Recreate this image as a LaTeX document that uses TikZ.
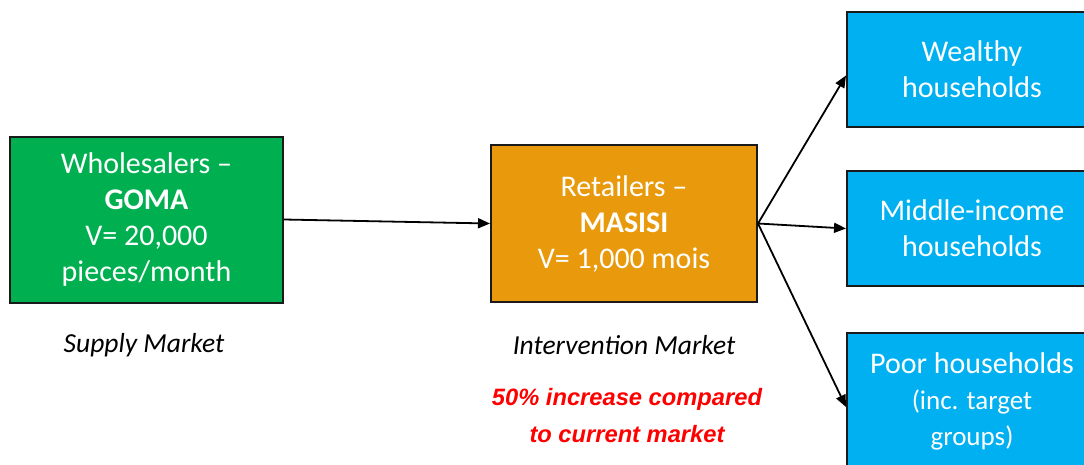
\documentclass[tikz,border=0pt]{standalone}
\usepackage{fontspec}
\setmainfont{Carlito}
\newfontfamily\arialfont{Liberation Sans}
\usetikzlibrary{arrows.meta}

\definecolor{boxgreen}{HTML}{00B050}
\definecolor{boxorange}{HTML}{E89A0C}
\definecolor{boxblue}{HTML}{00B0F0}
\definecolor{boxedge}{HTML}{1A1A1A}
\definecolor{notered}{HTML}{FF0000}

\tikzset{
  actor/.style={draw=boxedge, line width=2pt, text=white, align=center,
    inner sep=0pt, font=\fontsize{30}{36}\selectfont},
  marketlabel/.style={font=\itshape\fontsize{27.5}{30}\selectfont, text=black, inner sep=0pt},
  flow/.style={line width=1.8pt, -{Triangle[length=12pt,width=10pt]}}
}

\begin{document}
\begin{tikzpicture}[x=1pt, y=-1pt]
  \useasboundingbox (0,0) rectangle (1084,464);
  \clip (0,0) rectangle (1084,464);
  \fill[white] (0,0) rectangle (1084,464);

  % market actors
  \node[actor, fill=boxgreen, minimum width=273pt, minimum height=166pt]
    (goma) at (146.5,219.5) {Wholesalers –\\\textbf{GOMA}\\V= 20,000\\pieces/month};
  \node[actor, fill=boxorange, minimum width=266pt, minimum height=157pt]
    (masisi) at (624,223.5) {Retailers –\\\textbf{MASISI}\\V= 1,000 mois};

  % consumer groups
  \node[actor, fill=boxblue, minimum width=250pt, minimum height=115pt]
    (wealthy) at (972,69.5) {Wealthy\\households};
  \node[actor, fill=boxblue, minimum width=250pt, minimum height=115pt]
    (middle) at (972,228.5) {Middle-income\\households};
  \node[actor, fill=boxblue, minimum width=250pt, minimum height=136pt]
    (poor) at (972,401) {Poor households\\{\fontsize{27}{37}\selectfont (inc. target}\\{\fontsize{27}{34}\selectfont groups)}};

  % market labels
  \node[marketlabel] (supply) at (144,345) {Supply Market};
  \node[marketlabel] (intervention) at (624,345) {Intervention Market};
  \node[text=notered, align=center, inner sep=0pt,
        font=\arialfont\bfseries\itshape\fontsize{23.7}{37}\selectfont]
    (increase) at (627,416) {50\% increase compared\\to current market};

  % product flows
  \draw[flow] (goma.east) -- (masisi.west);
  \coordinate (hub) at (masisi.east);
  \draw[flow] (hub) -- ([yshift=-6pt]wealthy.west);
  \draw[flow] (hub) -- (middle.west);
  \draw[flow] (hub) -- ([yshift=-6pt]poor.west);
\end{tikzpicture}
\end{document}
